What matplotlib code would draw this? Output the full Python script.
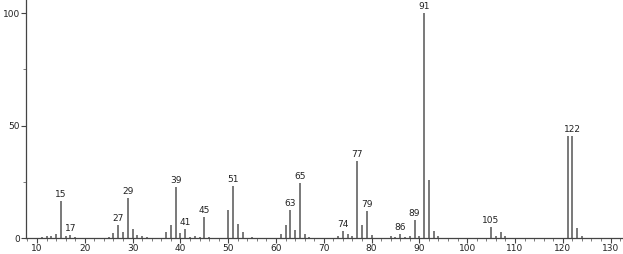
import matplotlib.pyplot as plt
from matplotlib.ticker import MultipleLocator

# m/z values and relative intensities
mz = [11, 12, 13, 14, 15, 16, 17, 18, 25, 26, 27, 28, 29, 30, 31, 32, 33,
      37, 38, 39, 40, 41, 42, 43, 44, 45, 46, 50, 51, 52, 53, 55,
      61, 62, 63, 64, 65, 66, 67, 73, 74, 75, 76, 77, 78, 79, 80,
      84, 85, 86, 87, 88, 89, 90, 91, 92, 93, 94,
      105, 106, 107, 108, 121, 122, 123, 124]
intensity = [0.5, 0.8, 0.8, 2.0, 16.4, 0.8, 1.2, 0.6, 0.6, 2.2, 5.8, 2.5, 17.8, 4.0, 1.5, 0.8, 0.3,
             2.8, 5.9, 22.8, 2.2, 4.0, 0.5, 1.0, 0.5, 9.2, 0.6, 12.4, 23.1, 6.1, 2.8, 0.4,
             2.0, 5.6, 12.4, 3.6, 24.6, 2.0, 0.6, 0.8, 3.1, 2.0, 1.0, 34.2, 5.6, 12.1, 1.5,
             1.0, 0.5, 1.7, 0.5, 1.0, 8.0, 1.0, 100.0, 25.8, 3.1, 1.0,
             5.0, 0.8, 2.7, 0.8, 45.5, 45.5, 4.4, 1.0]

# peaks that carry a label
labeled = [15, 17, 27, 29, 39, 41, 45, 51, 63, 65, 74, 77, 79, 86, 89, 91, 105, 122]

fig = plt.figure(figsize=(6.23, 2.54), dpi=100)
ax = fig.add_axes([26 / 623, 16 / 254, 597 / 623, 238 / 254])

ax.vlines(mz, 0, intensity, colors='#6e6e6e', linewidth=1.3)

lookup = dict(zip(mz, intensity))
for m in labeled:
    ax.annotate(str(m), (m, lookup[m]), xytext=(0, 1.5), textcoords='offset points',
                ha='center', va='bottom', fontsize=6.5, color='#222222')

ax.set_xlim(7.7, 132.6)
ax.set_ylim(0, 105.8)
ax.set_xticks(range(10, 131, 10))
ax.xaxis.set_minor_locator(MultipleLocator(2))
ax.set_yticks([0, 50, 100])
ax.yaxis.set_minor_locator(MultipleLocator(25))

for side in ['top', 'right']:
    ax.spines[side].set_visible(False)
for side in ['left', 'bottom']:
    ax.spines[side].set_color('#444444')
    ax.spines[side].set_linewidth(0.9)

ax.tick_params(axis='both', which='major', labelsize=6.5, length=3.5, width=0.8,
               color='#444444', labelcolor='#222222', pad=1)
ax.tick_params(axis='both', which='minor', length=2, width=0.6, color='#666666')

fig.savefig('out.png', dpi=100)
